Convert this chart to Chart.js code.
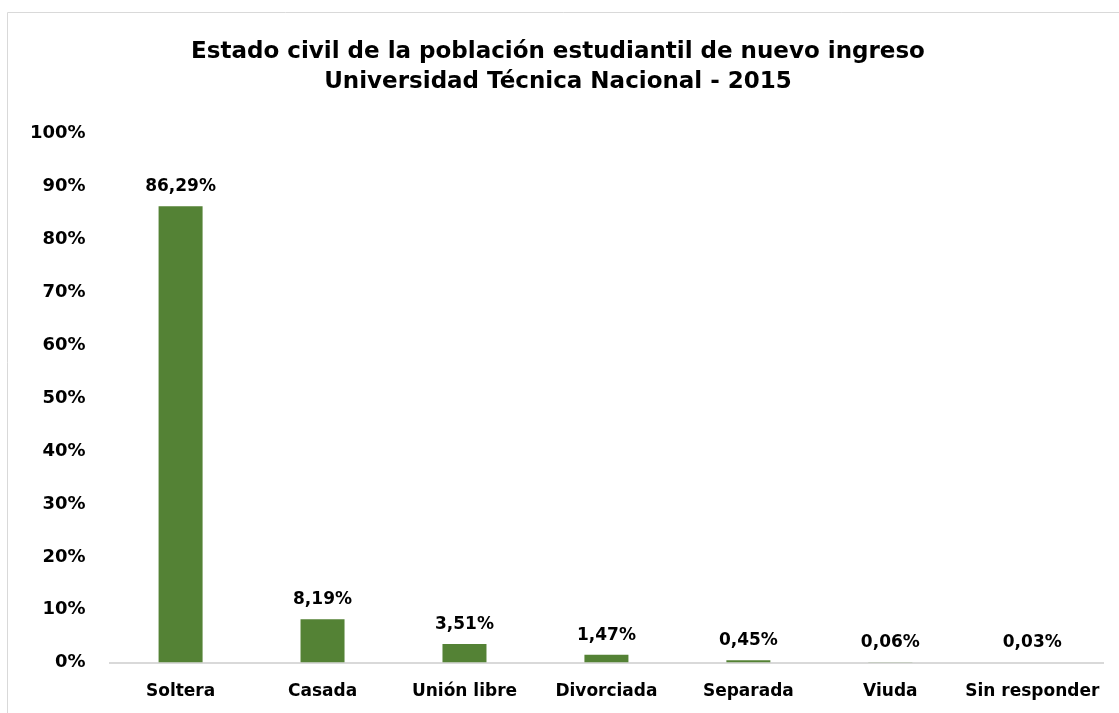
<!DOCTYPE html>
<html>
<head>
<meta charset="utf-8">
<script src="https://cdn.jsdelivr.net/npm/chart.js@4"></script>
<style>
  html, body { margin: 0; padding: 0; background: #fff; }
  #wrap { width: 1119px; height: 713px; }
</style>
</head>
<body>
<div id="wrap"><canvas id="civilChart" width="1119" height="713"></canvas></div>
<script>
// estado civil, % of new students
const categories = ['Soltera', 'Casada', 'Unión libre', 'Divorciada', 'Separada', 'Viuda', 'Sin responder'];
const percentages = [86.29, 8.19, 3.51, 1.47, 0.45, 0.06, 0.03];
const titleLines = ['Estado civil de la población estudiantil de nuevo ingreso', 'Universidad Técnica Nacional - 2015'];

const FONT = "'DejaVu Sans', 'Liberation Sans', sans-serif";

// light gray frame, only top and left edges are visible in the picture
const framePlugin = {
  id: 'frame',
  beforeDraw(chart) {
    const c = chart.ctx;
    c.save();
    c.strokeStyle = '#d9d9d9';
    c.lineWidth = 1;
    c.beginPath();
    c.moveTo(7.5, chart.height);
    c.lineTo(7.5, 12.5);
    c.lineTo(chart.width, 12.5);
    c.stroke();
    c.restore();
  }
};

// value labels above each bar, decimal comma
const valueLabels = {
  id: 'valueLabels',
  afterDatasetsDraw(chart) {
    const c = chart.ctx;
    const meta = chart.getDatasetMeta(0);
    c.save();
    c.font = 'bold 17px ' + FONT;
    c.fillStyle = '#000';
    c.textAlign = 'center';
    c.textBaseline = 'alphabetic';
    meta.data.forEach((bar, i) => {
      const txt = percentages[i].toFixed(2).replace('.', ',') + '%';
      c.fillText(txt, bar.x, bar.y - 15);
    });
    c.restore();
  }
};

const ctx = document.getElementById('civilChart').getContext('2d');
const civilChart = new Chart(ctx, {
  type: 'bar',
  data: {
    labels: categories,
    datasets: [{
      data: percentages,
      backgroundColor: '#548235',
      borderWidth: 0,
      categoryPercentage: 1,
      barPercentage: 0.31,
    }],
  },
  options: {
    responsive: false,
    animation: false,
    layout: { padding: { top: 22, left: 6, right: 9, bottom: -8 } },
    plugins: {
      legend: { display: false },
      tooltip: { enabled: false },
      title: {
        display: true,
        text: titleLines,
        color: '#000',
        font: { family: FONT, size: 23, weight: 'bold', lineHeight: 1.3 },
        padding: { top: 15, bottom: 37 },
      },
    },
    scales: {
      x: {
        grid: { display: false, drawTicks: false },
        border: { display: true, color: '#d9d9d9', width: 2 },
        ticks: {
          color: '#000', padding: 19, maxRotation: 0, minRotation: 0, autoSkip: false,
          font: { family: FONT, size: 17, weight: 'bold' },
        },
      },
      y: {
        min: 0,
        max: 100,
        grid: { display: false, drawTicks: false },
        border: { display: false },
        ticks: {
          stepSize: 10,
          color: '#000',
          padding: 24,
          font: { family: FONT, size: 18, weight: 'bold' },
          callback: (v) => v + '%',
        },
      },
    },
  },
  plugins: [framePlugin, valueLabels],
});
</script>
</body>
</html>
